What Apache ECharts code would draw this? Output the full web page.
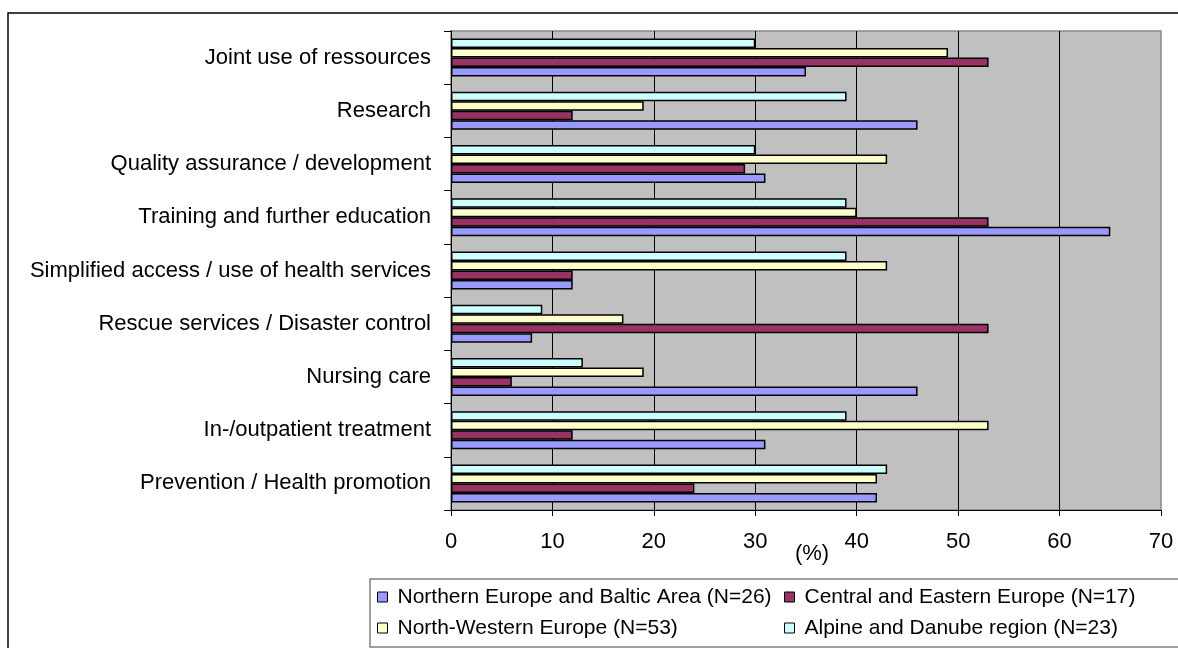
<!DOCTYPE html>
<html>
<head>
<meta charset="utf-8">
<script src="https://cdn.jsdelivr.net/npm/echarts@6/dist/echarts.min.js"></script>
<style>
  html, body { margin: 0; padding: 0; background: #fff; }
  #chart { width: 1178px; height: 648px; }
</style>
</head>
<body>
<div id="chart"></div>
<script>
// Fields of cooperation, listed bottom to top as drawn on the category axis
const categories = [
  'Prevention / Health promotion',
  'In-/outpatient treatment',
  'Nursing care',
  'Rescue services / Disaster control',
  'Simplified access / use of health services',
  'Training and further education',
  'Quality assurance / development',
  'Research',
  'Joint use of ressources'
];

// Share of projects per region (%), same order as categories
const northernEurope = [42, 31, 46, 8, 12, 65, 31, 46, 35];
const centralEastern = [24, 12, 6, 53, 12, 53, 29, 12, 53];
const northWestern = [42, 53, 19, 17, 43, 40, 43, 19, 49];
const alpineDanube = [43, 39, 13, 9, 39, 39, 30, 39, 30];

const seriesNames = [
  'Northern Europe and Baltic Area (N=26)',
  'Central and Eastern Europe (N=17)',
  'North-Western Europe (N=53)',
  'Alpine and Danube region (N=23)'
];
const seriesColors = ['#9999ff', '#993366', '#ffffcc', '#ccffff'];
const seriesValues = [northernEurope, centralEastern, northWestern, alpineDanube];

const xTicks = { min: 0, max: 70, interval: 10 };

const FONT = '"Liberation Sans", Arial, sans-serif';

const chart = echarts.init(document.getElementById('chart'), null, { renderer: 'canvas' });

const legendCommon = {
  orient: 'vertical',
  top: 586,
  padding: 0,
  itemGap: 9,
  itemWidth: 10,
  itemHeight: 10,
  icon: 'rect',
  selectedMode: false,
  itemStyle: { borderColor: '#000', borderWidth: 1 },
  textStyle: { fontFamily: FONT, fontSize: 21, color: '#000', lineHeight: 22, padding: [0, 0, 0, 5] }
};

// Within each group ECharts stacks the first series at the top, so the
// series are added in reverse to keep Northern Europe at the bottom.
const order = [3, 2, 1, 0];

chart.setOption({
  animation: false,
  backgroundColor: '#fff',
  textStyle: { fontFamily: FONT },
  grid: {
    left: 451, right: 17, top: 31, bottom: 138,
    show: true,
    backgroundColor: '#c0c0c0',
    borderColor: '#888888',
    borderWidth: 1.5
  },
  graphic: [
    {
      type: 'rect', z: -10, silent: true,
      shape: { x: 8, y: 13, width: 1300, height: 800 },
      style: { fill: 'none', stroke: '#000', lineWidth: 1.5 }
    },
    {
      type: 'rect', z: -5, silent: true,
      shape: { x: 370, y: 579, width: 900, height: 68 },
      style: { fill: 'none', stroke: '#808080', lineWidth: 1.5 }
    }
  ],
  legend: [
    Object.assign({}, legendCommon, { left: 377, data: [seriesNames[0], seriesNames[2]] }),
    Object.assign({}, legendCommon, { left: 784, data: [seriesNames[1], seriesNames[3]] })
  ],
  xAxis: {
    type: 'value',
    min: xTicks.min, max: xTicks.max, interval: xTicks.interval,
    name: '(%)',
    nameLocation: 'middle',
    nameGap: 33,
    nameMoveOverlap: false,
    nameTextStyle: { fontFamily: FONT, fontSize: 22, color: '#000', padding: [0, 0, 0, 12] },
    axisLine: { show: true, lineStyle: { color: '#000', width: 1 } },
    axisTick: { show: true, length: 6, lineStyle: { color: '#000' } },
    axisLabel: { fontFamily: FONT, fontSize: 22, color: '#000', margin: 21 },
    splitLine: {
      show: true,
      lineStyle: {
        color: ['#000', '#000', '#000', '#000', '#000', '#000', '#000', 'rgba(0,0,0,0)'],
        width: 1
      }
    }
  },
  yAxis: {
    type: 'category',
    data: categories,
    axisLine: { show: true, lineStyle: { color: '#000', width: 1 } },
    axisTick: { show: true, length: 7, lineStyle: { color: '#000' } },
    axisLabel: { fontFamily: FONT, fontSize: 22, color: '#000', margin: 20 },
    splitLine: { show: false }
  },
  series: order.map((i) => ({
    name: seriesNames[i],
    type: 'bar',
    data: seriesValues[i],
    barWidth: 9.5,
    barGap: '0%',
    itemStyle: { color: seriesColors[i], borderColor: '#000', borderWidth: 1.5 }
  }))
});
</script>
</body>
</html>
